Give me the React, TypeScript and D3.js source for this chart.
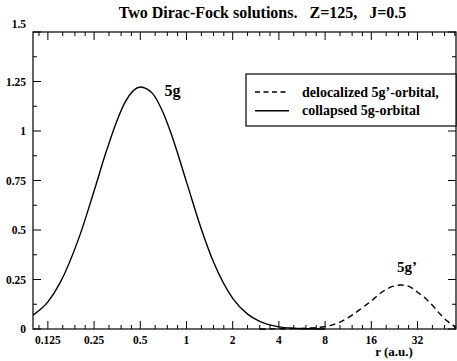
import * as d3 from "d3";

// ── Layout ────────────────────────────────────────────────
const W = 457;
const H = 361;
const frame = { left: 33, right: 456, top: 32, bottom: 329 };
const FONT = "'Liberation Serif', 'Times New Roman', Times, serif";

// ── Data ──────────────────────────────────────────────────
// collapsed 5g-orbital (solid)
const rSolid = [0.1, 0.125, 0.15, 0.2, 0.25, 0.3, 0.35, 0.4, 0.5, 0.6, 0.7, 0.8, 1, 1.25, 1.5, 2, 2.5, 3, 4, 5, 6, 8];
const psiSolid = [0.07, 0.137, 0.233, 0.464, 0.697, 0.896, 1.046, 1.148, 1.222, 1.19, 1.097, 0.98, 0.743, 0.504, 0.338, 0.155, 0.075, 0.038, 0.011, 0.004, 0.001, 0];

// delocalized 5g'-orbital (dashed)
const rDashed = [3, 4, 5, 6, 7, 8, 10, 12, 14, 16, 18, 20, 22, 25, 28, 32, 36, 40, 45, 50, 57];
const psiDashed = [0, 0.001, 0.002, 0.004, 0.007, 0.012, 0.035, 0.07, 0.108, 0.142, 0.176, 0.2, 0.215, 0.222, 0.216, 0.186, 0.155, 0.12, 0.075, 0.04, 0.008];

// ── Ticks ─────────────────────────────────────────────────
const xTicks = [0.125, 0.25, 0.5, 1, 2, 4, 8, 16, 32];
const xTickLabels = ["0.125", "0.25", "0.5", "1", "2", "4", "8", "16", "32"];
const yTicks = [0, 0.25, 0.5, 0.75, 1, 1.25, 1.5];
const yTickLabels = ["0", "0.25", "0.5", "0.75", "1", "1.25", "1.5"];

const title = "Two Dirac-Fock solutions.   Z=125,   J=0.5";
const xLabel = "r (a.u.)";
const legendItems = [
  { label: "delocalized 5g\u2019-orbital,", dash: "5 3.5" },
  { label: "collapsed 5g-orbital", dash: "none" },
];

// ── Scales ────────────────────────────────────────────────
const x = d3.scaleLog().base(2).domain([0.1, 57]).range([frame.left, frame.right]);
const y = d3.scaleLinear().domain([0, 1.5]).range([frame.bottom, frame.top]);

// minor ticks: 3 linear subdivisions per octave
const xMinor: number[] = [];
[0.0625, ...xTicks].forEach(t => {
  [1.25, 1.5, 1.75].forEach(f => {
    const v = t * f;
    if (v >= 0.1 && v <= 57) xMinor.push(v);
  });
});
const yMinor = yTicks.slice(0, -1).map(t => t + 0.125);

const line = d3.line<[number, number]>()
  .x(d => x(d[0]))
  .y(d => y(d[1]))
  .curve(d3.curveMonotoneX);

const solidPath = line(rSolid.map((r, i) => [r, psiSolid[i]] as [number, number])) || "";
const dashedPath = line(rDashed.map((r, i) => [r, psiDashed[i]] as [number, number])) || "";

const MAJ = 8;
const MIN = 4;

export default function App() {
  return (
    <svg width={W} height={H} viewBox={`0 0 ${W} ${H}`}
      style={{ position: "absolute", left: 0, top: 0, background: "#fff" }}
      fontFamily={FONT} fontWeight="bold">
      <rect x={0} y={0} width={W} height={H} fill="#fff" />

      {/* ── Title ── */}
      <text x={262.5} y={18} textAnchor="middle" fontSize={16} style={{ whiteSpace: "pre" }}>
        {title}
      </text>

      {/* ── Curves ── */}
      <path d={solidPath} fill="none" stroke="#000" strokeWidth={1.4} />
      <path d={dashedPath} fill="none" stroke="#000" strokeWidth={1.4} strokeDasharray="6 4" />

      {/* ── Frame ── */}
      <rect x={frame.left} y={frame.top} width={frame.right - frame.left}
        height={frame.bottom - frame.top} fill="none" stroke="#000" strokeWidth={1.2} />

      {/* ── X ticks (bottom + top) ── */}
      {xTicks.map(t => (
        <g key={"xm" + t}>
          <line x1={x(t)} x2={x(t)} y1={frame.bottom} y2={frame.bottom - MAJ} stroke="#000" />
          <line x1={x(t)} x2={x(t)} y1={frame.top} y2={frame.top + MAJ} stroke="#000" />
        </g>
      ))}
      {xMinor.map(t => (
        <g key={"xn" + t}>
          <line x1={x(t)} x2={x(t)} y1={frame.bottom} y2={frame.bottom - MIN} stroke="#000" />
          <line x1={x(t)} x2={x(t)} y1={frame.top} y2={frame.top + MIN} stroke="#000" />
        </g>
      ))}
      {xTicks.map((t, i) => (
        <text key={"xl" + t} x={x(t)} y={frame.bottom + 15} textAnchor="middle" fontSize={11.5}>
          {xTickLabels[i]}
        </text>
      ))}

      {/* ── Y ticks (left + right) ── */}
      {yTicks.map(t => (
        <g key={"ym" + t}>
          <line x1={frame.left} x2={frame.left + MAJ} y1={y(t)} y2={y(t)} stroke="#000" />
          <line x1={frame.right} x2={frame.right - MAJ} y1={y(t)} y2={y(t)} stroke="#000" />
        </g>
      ))}
      {yMinor.map(t => (
        <g key={"yn" + t}>
          <line x1={frame.left} x2={frame.left + MIN} y1={y(t)} y2={y(t)} stroke="#000" />
          <line x1={frame.right} x2={frame.right - MIN} y1={y(t)} y2={y(t)} stroke="#000" />
        </g>
      ))}
      {yTicks.map((t, i) => (
        <text key={"yl" + t} x={26} y={y(t) + (t === 1.5 ? -4.5 : 4)} textAnchor="end" fontSize={11.5}>
          {yTickLabels[i]}
        </text>
      ))}

      {/* ── Axis label ── */}
      <text x={394} y={356} textAnchor="middle" fontSize={13}>{xLabel}</text>

      {/* ── Curve labels ── */}
      <text x={x(0.72)} y={y(1.23) + 11} fontSize={16}>5g</text>
      <text x={x(23.5)} y={y(0.29)} fontSize={15}>5g’</text>

      {/* ── Legend ── */}
      <rect x={246} y={74} width={frame.right - 246} height={52} fill="#fff" stroke="#000" strokeWidth={1.2} />
      {legendItems.map((it, i) => (
        <g key={it.label}>
          <line x1={255} x2={289} y1={92 + i * 18.7} y2={92 + i * 18.7}
            stroke="#000" strokeWidth={1.4} strokeDasharray={it.dash} />
          <text x={302} y={96.5 + i * 18.5} fontSize={14}>{it.label}</text>
        </g>
      ))}
    </svg>
  );
}
